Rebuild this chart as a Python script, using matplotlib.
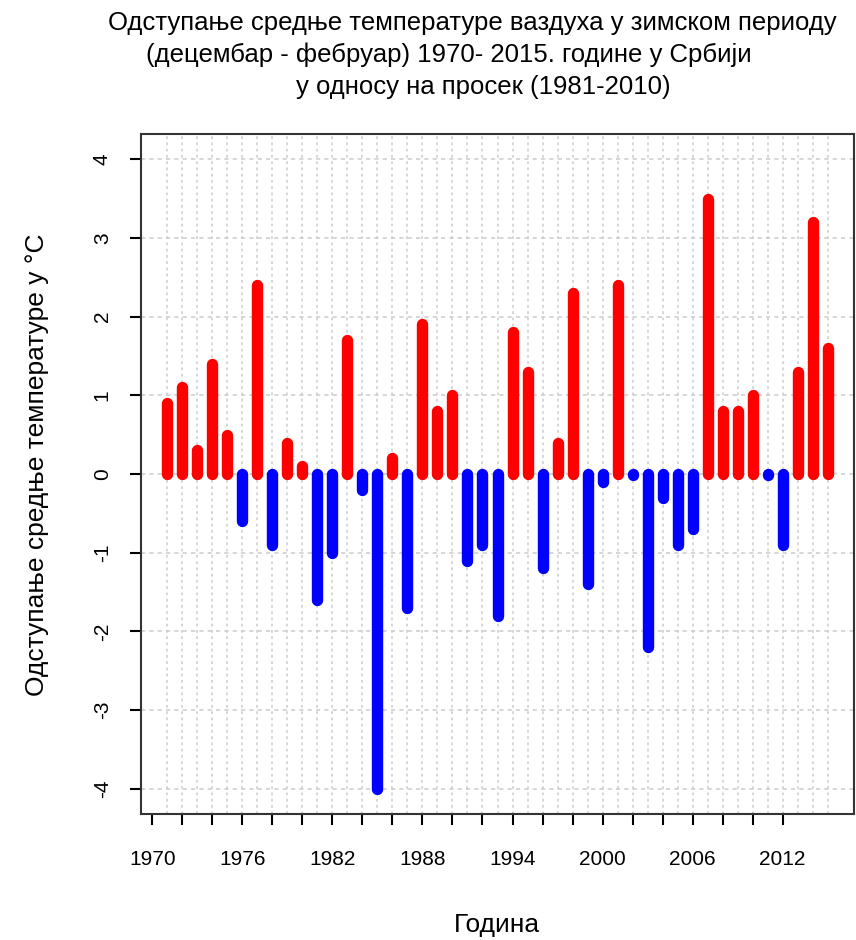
import numpy as np
import matplotlib
matplotlib.use("Agg")
import matplotlib.pyplot as plt

plt.rcParams['font.family'] = ['Liberation Sans', 'DejaVu Sans']
plt.rcParams['lines.scale_dashes'] = False
plt.rcParams['path.simplify'] = False

# winter (Dec-Feb) anomalies vs 1981-2010 mean, degC
godine = list(range(1971, 2016))
odstupanje = [0.9, 1.1, 0.3, 1.4, 0.5, -0.6, 2.4, -0.9, 0.4, 0.1,
              -1.6, -1.0, 1.7, -0.2, -4.0, 0.2, -1.7, 1.9, 0.8, 1.0,
              -1.1, -0.9, -1.8, 1.8, 1.3, -1.2, 0.4, 2.3, -1.4, -0.1,
              2.4, 0.0, -2.2, -0.3, -0.9, -0.7, 3.5, 0.8, 0.8, 1.0,
              0.0, -0.9, 1.3, 3.2, 1.6]
x_ticks = list(range(1970, 2013, 2))
x_labels = [str(g) if (g - 1970) % 6 == 0 else "" for g in x_ticks]
y_ticks = [-4, -3, -2, -1, 0, 1, 2, 3, 4]

naslov = ["Одступање средње температуре ваздуха у зимском периоду",
          "(децембар - фебруар) 1970- 2015. године у Србији",
          "у односу на просек (1981-2010)"]

fig = plt.figure(figsize=(8.56, 9.40), dpi=100)
ax = fig.add_axes([141/856, 126/940, 713/856, 680/940])

g = np.array(godine)
v = np.array(odstupanje)
boje = np.where(v > 0, "#ff0000", "#0000ff")

# grid first so the bars sit on top
for yy in y_ticks:
    ax.axhline(yy, color="#cccccc", lw=1.1, ls=(0, (3, 3)), zorder=1)
for gg in godine:
    ax.axvline(gg, color="#cccccc", lw=1.1, ls=(0, (2, 2.5)), zorder=1)

# type="h" style bars with round ends (a zero gives just a dot)
for gi, vi, bi in zip(g, v, boje):
    kraj = vi if vi != 0 else -0.01
    ax.plot([gi, gi], [0, kraj], color=bi, lw=8.2, solid_capstyle="round", zorder=3)

ax.set_xlim(1971 - 1.76, 2015 + 1.76)
ax.set_ylim(-4.32, 4.32)

ax.set_xticks(x_ticks)
ax.set_xticklabels(x_labels, fontsize=15)
ax.set_yticks(y_ticks)
ax.set_yticklabels([str(t) for t in y_ticks], fontsize=15, rotation=90, va="center")
ax.tick_params(axis="x", length=8, width=1.5, pad=18)
ax.tick_params(axis="y", length=8, width=1.5, pad=13)
for s in ax.spines.values():
    s.set_linewidth(1.5)
    s.set_color("#333333")

fig.text(497/856, 1 - 925/940, "Година", fontsize=19, ha="center", va="center")
fig.text(37/856, 1 - 465/940, "Одступање средње температуре у °C", fontsize=19,
         ha="center", va="center", rotation=90)

fig.text(472/856, 1 - 23/940, naslov[0], fontsize=18.5, ha="center", va="center")
fig.text(449/856, 1 - 55/940, naslov[1], fontsize=18.5, ha="center", va="center")
fig.text(483/856, 1 - 87/940, naslov[2], fontsize=18.5, ha="center", va="center")

fig.savefig("out.png", dpi=100)
